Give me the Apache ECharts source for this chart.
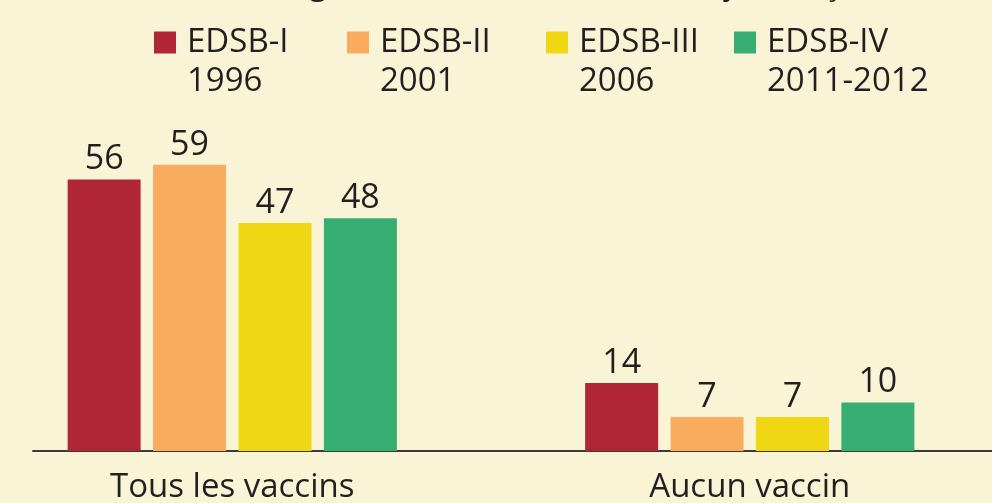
<!DOCTYPE html>
<html>
<head>
<meta charset="utf-8">
<script src="https://cdn.jsdelivr.net/npm/echarts@6/dist/echarts.min.js"></script>
<style>
  html, body { margin: 0; padding: 0; background: #FAF4D6; }
  #chart { width: 992px; height: 503px; }
</style>
</head>
<body>
<div id="chart"></div>
<script>
// données du graphique
const categories = ['Tous les vaccins', 'Aucun vaccin']
const surveys = ['EDSB-I\n1996', 'EDSB-II\n2001', 'EDSB-III\n2006', 'EDSB-IV\n2011-2012']
const colors = ['#B12637', '#F9AC5E', '#F0D713', '#36AE71']
const edsb1 = [56, 14]
const edsb2 = [59, 7]
const edsb3 = [47, 7]
const edsb4 = [48, 10]
const values = [edsb1, edsb2, edsb3, edsb4]

const textColor = '#231F20'
const font = 'Open Sans'

// une légende par série pour placer chaque item
const legendLeft = [154, 347, 546, 734]
const legends = surveys.map((name, i) => ({
  data: [name],
  left: legendLeft[i],
  top: -16,
  padding: 0,
  icon: 'rect',
  itemWidth: 22,
  itemHeight: 22,
  selectedMode: false,
  // ligne vide en tête pour aligner la 1re ligne sur le carré
  formatter: n => ' \n' + n,
  textStyle: {
    color: textColor,
    fontFamily: font,
    fontSize: 33,
    lineHeight: 39,
    padding: [0, 0, 0, 6]
  }
}))

const series = surveys.map((name, i) => ({
  name: name,
  type: 'bar',
  xAxisIndex: 0,
  yAxisIndex: 0,
  data: values[i],
  barWidth: 73,
  barGap: '17%',
  itemStyle: { color: colors[i] },
  label: {
    show: true,
    position: 'top',
    distance: 3,
    color: textColor,
    fontFamily: font,
    fontSize: 34
  }
}))

let myChart = echarts.init(document.getElementById('chart'))
myChart.setOption({
  backgroundColor: '#FAF4D6',
  animation: false,
  // titre coupé en haut de l'image
  title: {
    text: "Pourcentage d'enfants de 12-23 mois ayant reçu tous les vaccins",
    left: 161,
    top: -29,
    padding: 0,
    textStyle: { color: textColor, fontFamily: font, fontSize: 31, fontWeight: 'normal' }
  },
  legend: legends,
  grid: [
    { left: -26.5, right: -16.5, top: 160, bottom: 52, outerBoundsMode: 'none' },
    { left: 33, right: 0, top: 160, bottom: 52, outerBoundsMode: 'none' }
  ],
  xAxis: [
    {
      type: 'category',
      gridIndex: 0,
      data: categories,
      axisLine: { show: false },
      axisTick: { show: false },
      axisLabel: { color: textColor, fontFamily: font, fontSize: 33, margin: 20 }
    },
    {
      type: 'value',
      gridIndex: 1,
      min: 0,
      max: 1,
      axisLine: { show: true, lineStyle: { color: '#3D3935', width: 2 } },
      axisTick: { show: false },
      axisLabel: { show: false },
      splitLine: { show: false }
    }
  ],
  yAxis: [
    { type: 'value', gridIndex: 0, min: 0, max: 60, show: false },
    { type: 'value', gridIndex: 1, min: 0, max: 1, show: false }
  ],
  series: series
})
</script>
</body>
</html>
